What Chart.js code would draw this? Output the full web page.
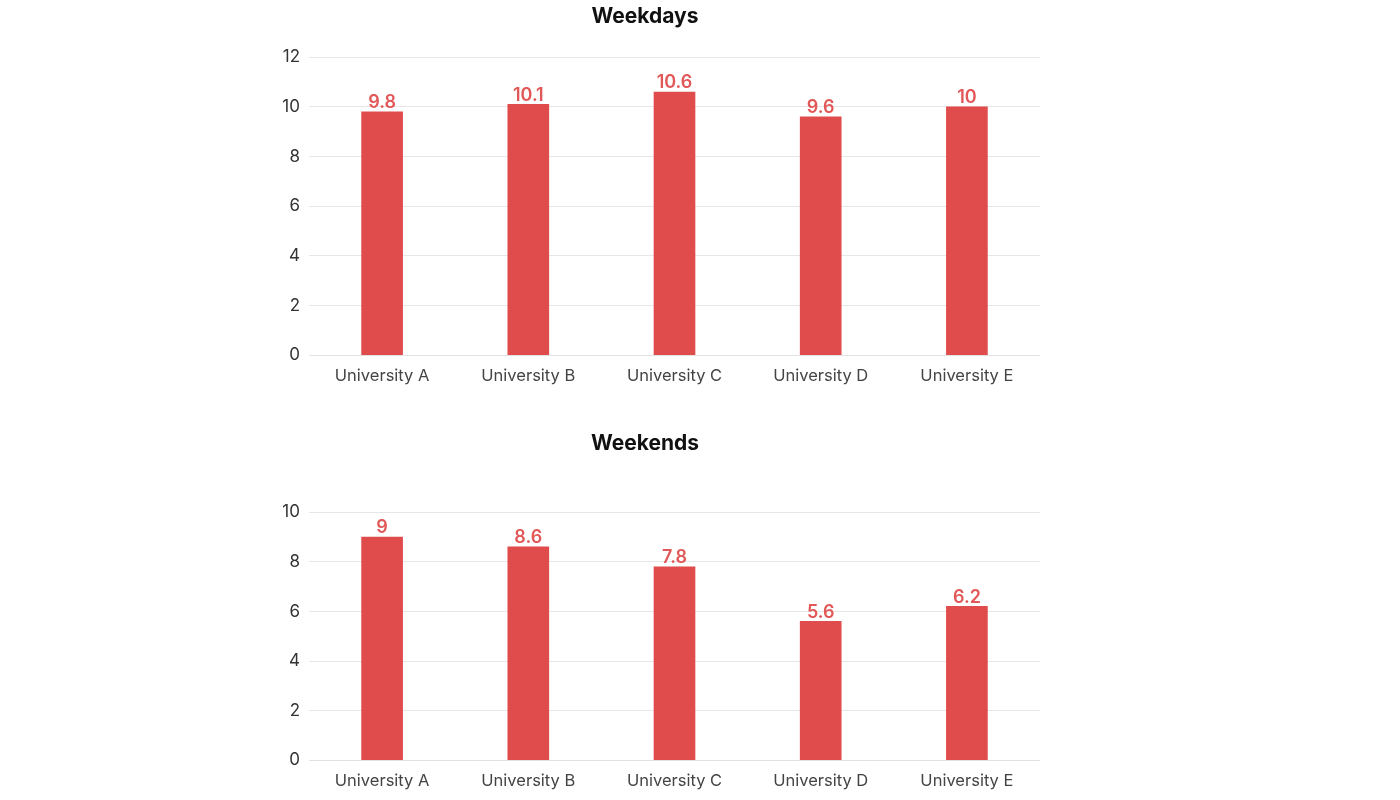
<!DOCTYPE html>
<html>
<head>
<meta charset="utf-8">
<script src="https://cdn.jsdelivr.net/npm/chart.js@4"></script>
<style>
  html, body { margin: 0; padding: 0; background: #fff; width: 1400px; height: 800px; overflow: hidden; }
  .box { position: absolute; left: 250px; width: 790px; }
  #b1 { top: 0; height: 395px; }
  #b2 { top: 424px; height: 376px; }
</style>
</head>
<body>
<div class="box" id="b1"><canvas id="c1"></canvas></div>
<div class="box" id="b2"><canvas id="c2"></canvas></div>
<script>
const categories = ['University A', 'University B', 'University C', 'University D', 'University E'];
const weekdayValues = [9.8, 10.1, 10.6, 9.6, 10];
const weekendValues = [9, 8.6, 7.8, 5.6, 6.2];
const weekdayTitle = 'Weekdays';
const weekendTitle = 'Weekends';

const BAR = 'rgb(224,76,76)';
const LABEL = 'rgb(226,88,88)';
const FONT = 'Inter, "Noto Sans", sans-serif';

const valueLabels = {
  id: 'valueLabels',
  afterDatasetsDraw(chart) {
    const ctx = chart.ctx;
    const meta = chart.getDatasetMeta(0);
    const data = chart.data.datasets[0].data;
    ctx.save();
    ctx.fillStyle = LABEL;
    ctx.font = '600 18px ' + FONT;
    ctx.textAlign = 'center';
    ctx.textBaseline = 'bottom';
    meta.data.forEach((bar, i) => {
      ctx.fillText(String(data[i]), bar.x, bar.y);
    });
    ctx.restore();
  }
};

function makeChart(id, title, values, max, titlePad) {
  return new Chart(document.getElementById(id), {
    type: 'bar',
    data: {
      labels: categories,
      datasets: [{ data: values, backgroundColor: BAR, barThickness: 41 }]
    },
    options: {
      responsive: true,
      maintainAspectRatio: false,
      animation: false,
      layout: { padding: { left: 0, right: 0, top: 0, bottom: 6 } },
      plugins: {
        legend: { display: false },
        tooltip: { enabled: false },
        title: {
          display: true,
          text: title,
          color: '#111',
          font: { family: FONT, size: 21, weight: '700' },
          padding: titlePad
        }
      },
      scales: {
        x: {
          grid: { display: false },
          border: { display: true, color: '#e2e2e2' },
          ticks: { color: '#444', font: { family: FONT, size: 16.5 }, padding: 3 }
        },
        y: {
          min: 0,
          max: max,
          afterFit(scale) { scale.width = 59; },
          ticks: { stepSize: 2, color: '#333', font: { family: FONT, size: 17 }, padding: 9 },
          grid: { color: '#e6e6e6', drawTicks: false },
          border: { display: false }
        }
      }
    },
    plugins: [valueLabels]
  });
}

makeChart('c1', weekdayTitle, weekdayValues, 12, { top: 4, bottom: 28 });
makeChart('c2', weekendTitle, weekendValues, 10, { top: 7, bottom: 56 });
</script>
</body>
</html>
